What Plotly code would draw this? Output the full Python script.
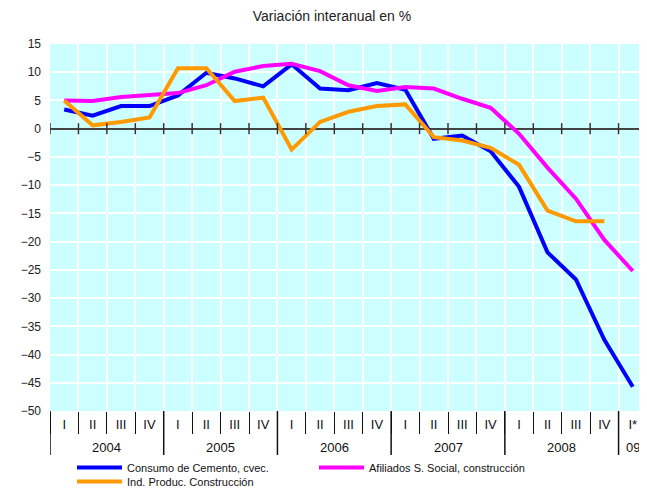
import numpy as np
import plotly.graph_objects as go

years = ["2004"] * 4 + ["2005"] * 4 + ["2006"] * 4 + ["2007"] * 4 + ["2008"] * 4 + ["09"]
quarters = ["I", "II", "III", "IV"] * 5 + ["I*"]

cemento = [3.4, 2.3, 4.0, 4.0, 5.9, 9.9, 8.9, 7.5, 11.4, 7.1, 6.8, 8.1, 6.9, -1.8, -1.2, -4.0,
           -10.3, -21.9, -26.7, -37.4, -45.7]
afiliados = [5.0, 4.9, 5.6, 6.0, 6.3, 7.7, 10.1, 11.1, 11.5, 10.2, 7.7, 6.7, 7.4, 7.1, 5.3, 3.7,
             -0.9, -6.9, -12.4, -19.7, -25.2]
ipi = [5.0, 0.6, 1.2, 2.0, 10.7, 10.7, 4.9, 5.5, -3.7, 1.2, 3.0, 4.0, 4.3, -1.5, -2.1, -3.4,
       -6.4, -14.5, -16.4, -16.4, None]

names = ["Consumo de Cemento, cvec.", "Afiliados S. Social, construcción", "Ind. Produc. Construcción"]
colors = ["#0000FF", "#FF00FF", "#FF9900"]
legend_rows = ["legend", "legend", "legend2"]

FONT = "Liberation Sans, Arial, sans-serif"
Y_MIN, Y_MAX = -50, 15

# figure geometry (page has an 8px body margin)
W, H = 639, 481
ML, MR, MT, MB = 42, 0, 36, 78
PH = H - MT - MB

n = len(quarters)
xi = np.arange(n)
bounds = xi - 0.5

fig = go.Figure()
for vals, name, col, lg in zip([cemento, afiliados, ipi], names, colors, legend_rows):
    fig.add_trace(go.Scatter(
        x=xi, y=vals, name=name, mode="lines", legend=lg,
        line=dict(color=col, width=4), connectgaps=False,
    ))

# tick marks crossing the zero line, at each category boundary
fig.add_trace(go.Scatter(
    x=bounds, y=[0] * len(bounds), mode="markers",
    marker=dict(symbol="line-ns", size=8, line=dict(color="#333333", width=1.5)),
    showlegend=False, hoverinfo="skip",
))

# year group labels and separators
unique_years = list(dict.fromkeys(years))
for yr in unique_years:
    idx = [i for i, v in enumerate(years) if v == yr]
    fig.add_annotation(
        x=float(np.mean(idx)), xref="x", y=-(447 - 411) / PH, yref="paper",
        text=yr, showarrow=False, yanchor="middle",
        font=dict(family=FONT, size=13, color="#111111"),
    )
    fig.add_shape(
        type="line", xref="x", yref="paper",
        x0=idx[0] - 0.5, x1=idx[0] - 0.5, y0=0, y1=-(455 - 411) / PH,
        line=dict(color="#111111", width=1.5),
    )

legend_common = dict(
    orientation="h", x=(77 - 8 - ML - 5) / (W - ML - MR), xanchor="left",
    yref="container", yanchor="top",
    entrywidth=182, entrywidthmode="pixels", itemwidth=45,
    font=dict(family=FONT, size=11, color="#111111"),
    bgcolor="rgba(0,0,0,0)", tracegroupgap=0,
)

fig.update_layout(
    width=W, height=H,
    margin=dict(l=ML, r=MR, t=MT, b=MB),
    paper_bgcolor="white", plot_bgcolor="#CCFFFF",
    font=dict(family=FONT, size=12, color="#222222"),
    title=dict(text="Variación interanual en %", x=324 / W, xanchor="center",
               y=1 - 8 / H, yanchor="middle", yref="container",
               font=dict(family=FONT, size=14, color="#222222")),
    xaxis=dict(
        range=[-0.5, n - 0.5], tickmode="array", tickvals=xi, ticktext=quarters,
        ticks="", showgrid=False, zeroline=False, showline=False, automargin=False,
        ticklabelstandoff=4,
        tickfont=dict(family=FONT, size=13, color="#111111"),
        minor=dict(tickmode="array", tickvals=bounds, ticks="outside", ticklen=22,
                   tickcolor="#111111", tickwidth=1.2,
                   showgrid=True, gridcolor="white", gridwidth=1.5),
    ),
    yaxis=dict(
        range=[Y_MIN, Y_MAX], dtick=5, tick0=0,
        showgrid=True, gridcolor="white", gridwidth=2,
        zeroline=True, zerolinecolor="#444444", zerolinewidth=2,
        showline=False, ticks="", ticklabelstandoff=8, automargin=False,
        tickfont=dict(family=FONT, size=12, color="#222222"),
    ),
    legend=dict(y=1 - 445 / H, **legend_common),
    legend2=dict(y=1 - 459 / H, **legend_common),
    showlegend=True,
)

fig.write_html("out.html")
